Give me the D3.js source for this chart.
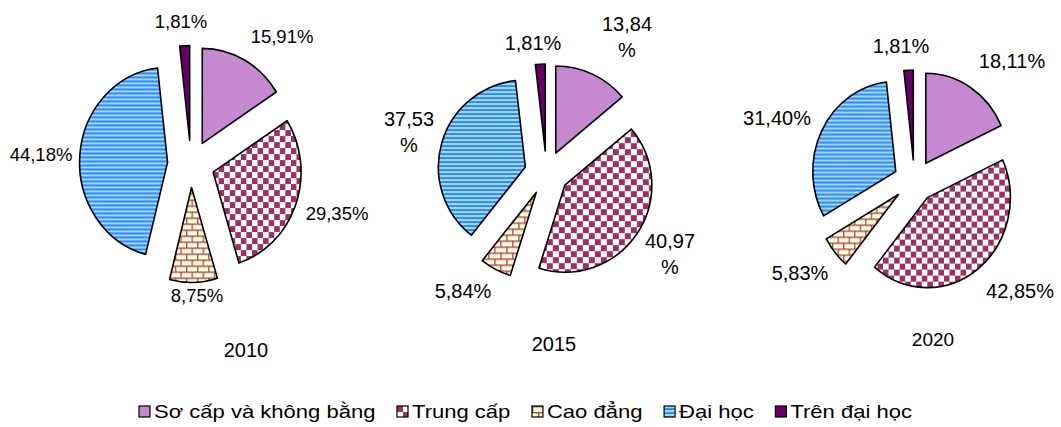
<!DOCTYPE html>
<html>
<head>
<meta charset="utf-8">
<script src="https://cdn.jsdelivr.net/npm/d3@7"></script>
<style>
  html, body { margin: 0; padding: 0; background: #fff; }
  svg { display: block; }
  text { font-family: "Liberation Sans", Arial, sans-serif; fill: #000; }
</style>
</head>
<body>
<svg id="chart" width="1061" height="427"></svg>
<script>
// ---------------- DATA ----------------
const categories = ["Sơ cấp và không bằng", "Trung cấp", "Cao đẳng", "Đại học", "Trên đại học"];
const years = ["2010", "2015", "2020"];
const values2010 = [15.91, 29.35, 8.75, 44.18, 1.81];
const values2015 = [13.84, 40.97, 5.84, 37.53, 1.81];
const values2020 = [18.11, 42.85, 5.83, 31.40, 1.81];

// ---------------- LAYOUT / STYLE ----------------
const layouts = [
  { cx: 191, cy: 164, rx: 88, ry: 95, explode: 23.5, font: 18.5,
    yearX: 246, yearY: 357, yearFont: 20,
    labels: [ {x: 282, y: 43}, {x: 337, y: 220}, {x: 197, y: 302}, {x: 41, y: 161}, {x: 181, y: 28} ],
    wrap: [false, false, false, false, false] },
  { cx: 546.5, cy: 173, rx: 87, ry: 87, explode: 22, font: 20,
    yearX: 554, yearY: 351, yearFont: 20,
    labels: [ {x: 627, y: 31}, {x: 670, y: 248}, {x: 463, y: 298}, {x: 409, y: 126}, {x: 533, y: 50} ],
    wrap: [true, true, false, true, false] },
  { cx: 914.5, cy: 181, rx: 83, ry: 90, explode: 21, font: 20,
    yearX: 933, yearY: 346, yearFont: 19,
    labels: [ {x: 1012, y: 68}, {x: 1020, y: 298}, {x: 800, y: 280}, {x: 777, y: 125}, {x: 901, y: 53} ],
    wrap: [false, false, false, false, false] }
];
const seriesValues = [values2010, values2015, values2020];
const patternIds = ["p-so", "p-trung", "p-cao", "p-dai", "p-tren"];

const svg = d3.select("#chart");
const defs = svg.append("defs");

// Sơ cấp: orchid with periwinkle dots
{
  const p = defs.append("pattern").attr("id", "p-so").attr("patternUnits", "userSpaceOnUse")
    .attr("width", 10).attr("height", 10);
  p.append("rect").attr("width", 10).attr("height", 10).attr("fill", "#CC86CC");
  p.append("circle").attr("cx", 2.5).attr("cy", 2.5).attr("r", 1.3).attr("fill", "#9A9AFF");
  p.append("circle").attr("cx", 7.5).attr("cy", 7.5).attr("r", 1.3).attr("fill", "#9A9AFF");
}
// Trung cấp: checkerboard
{
  const p = defs.append("pattern").attr("id", "p-trung").attr("patternUnits", "userSpaceOnUse")
    .attr("width", 12).attr("height", 12);
  p.append("rect").attr("width", 12).attr("height", 12).attr("fill", "#fff");
  p.append("rect").attr("x", 0).attr("y", 0).attr("width", 6).attr("height", 6).attr("fill", "#993366");
  p.append("rect").attr("x", 6).attr("y", 6).attr("width", 6).attr("height", 6).attr("fill", "#993366");
}
// Cao đẳng: bricks
{
  const p = defs.append("pattern").attr("id", "p-cao").attr("patternUnits", "userSpaceOnUse")
    .attr("width", 12).attr("height", 12);
  p.append("rect").attr("width", 12).attr("height", 12).attr("fill", "#FFFFCC");
  const m = "#A3446F";
  p.append("rect").attr("x", 0).attr("y", 0).attr("width", 12).attr("height", 1.4).attr("fill", m);
  p.append("rect").attr("x", 0).attr("y", 6).attr("width", 12).attr("height", 1.4).attr("fill", m);
  p.append("rect").attr("x", 0).attr("y", 0).attr("width", 1.4).attr("height", 6).attr("fill", m);
  p.append("rect").attr("x", 6).attr("y", 6).attr("width", 1.4).attr("height", 6).attr("fill", m);
}
// Đại học: horizontal stripes
{
  const p = defs.append("pattern").attr("id", "p-dai").attr("patternUnits", "userSpaceOnUse")
    .attr("width", 8).attr("height", 4);
  p.append("rect").attr("width", 8).attr("height", 4).attr("fill", "#A8D4FF");
  p.append("rect").attr("y", 2).attr("width", 8).attr("height", 1).attr("fill", "#3399FF");
  p.append("rect").attr("y", 3).attr("width", 8).attr("height", 1).attr("fill", "#1F86EE");
}
// Trên đại học: solid
{
  const p = defs.append("pattern").attr("id", "p-tren").attr("patternUnits", "userSpaceOnUse")
    .attr("width", 4).attr("height", 4);
  p.append("rect").attr("width", 4).attr("height", 4).attr("fill", "#660066");
}

const fmt = v => d3.format(".2f")(v).replace(".", ",") + "%";
const pie = d3.pie().sort(null).value(d => d);

seriesValues.forEach((vals, ci) => {
  const L = layouts[ci];
  const arc = d3.arc().innerRadius(0).outerRadius(L.ry);
  const arcs = pie(vals);
  const g = svg.append("g").attr("class", "pie-" + years[ci]);

  g.selectAll("g.slice").data(arcs).join("g")
    .attr("class", "slice")
    .attr("transform", d => {
      const mid = (d.startAngle + d.endAngle) / 2;
      const dx = L.explode * Math.sin(mid);
      const dy = -L.explode * Math.cos(mid);
      return `translate(${L.cx + dx},${L.cy + dy}) scale(${L.rx / L.ry},1)`;
    })
    .append("path")
    .attr("d", arc)
    .attr("fill", (d, i) => `url(#${patternIds[i]})`)
    .attr("stroke", "#000")
    .attr("stroke-width", 1.6)
    .attr("stroke-linejoin", "round")
    .attr("vector-effect", "non-scaling-stroke");

  // data labels
  const lab = g.selectAll("text.lbl").data(vals).join("text")
    .attr("class", "lbl")
    .attr("text-anchor", "middle")
    .attr("font-size", L.font)
    .attr("x", (d, i) => L.labels[i].x)
    .attr("y", (d, i) => L.labels[i].y);
  lab.each(function(d, i) {
    const t = d3.select(this);
    const s = fmt(d);
    if (L.wrap[i]) {
      t.append("tspan").attr("x", L.labels[i].x).text(s.slice(0, -1));
      t.append("tspan").attr("x", L.labels[i].x).attr("dy", 25.5).text("%");
    } else {
      t.text(s);
    }
  });

  // year
  g.append("text").attr("text-anchor", "middle")
    .attr("font-size", L.yearFont)
    .attr("x", L.yearX).attr("y", L.yearY)
    .text(years[ci]);
});

// ---------------- LEGEND ----------------
const legendLeft = 139, legendRight = 912, legendBaseline = 418, sw = 11, swGap = 4, stretch = 1.16;
const lg = svg.append("g").attr("class", "legend");
const items = lg.selectAll("g.item").data(categories).join("g").attr("class", "item");
items.append("rect")
  .attr("width", sw).attr("height", sw)
  .attr("fill", (d, i) => `url(#${patternIds[i]})`)
  .attr("stroke", "#000").attr("stroke-width", 1.2);
items.append("text")
  .attr("font-size", 19)
  .attr("transform", `translate(${sw + swGap},0) scale(${stretch},1)`)
  .text(d => d);
const widths = [];
items.select("text").each(function() { widths.push(this.getComputedTextLength() * stretch); });
const itemW = widths.map(w => sw + swGap + w);
const totalItems = d3.sum(itemW);
const gap = (legendRight - legendLeft - totalItems) / (categories.length - 1);
let xpos = legendLeft;
items.each(function(d, i) {
  d3.select(this).attr("transform", `translate(${xpos},${legendBaseline})`);
  d3.select(this).select("rect").attr("y", -12);
  xpos += itemW[i] + gap;
});
</script>
</body>
</html>
